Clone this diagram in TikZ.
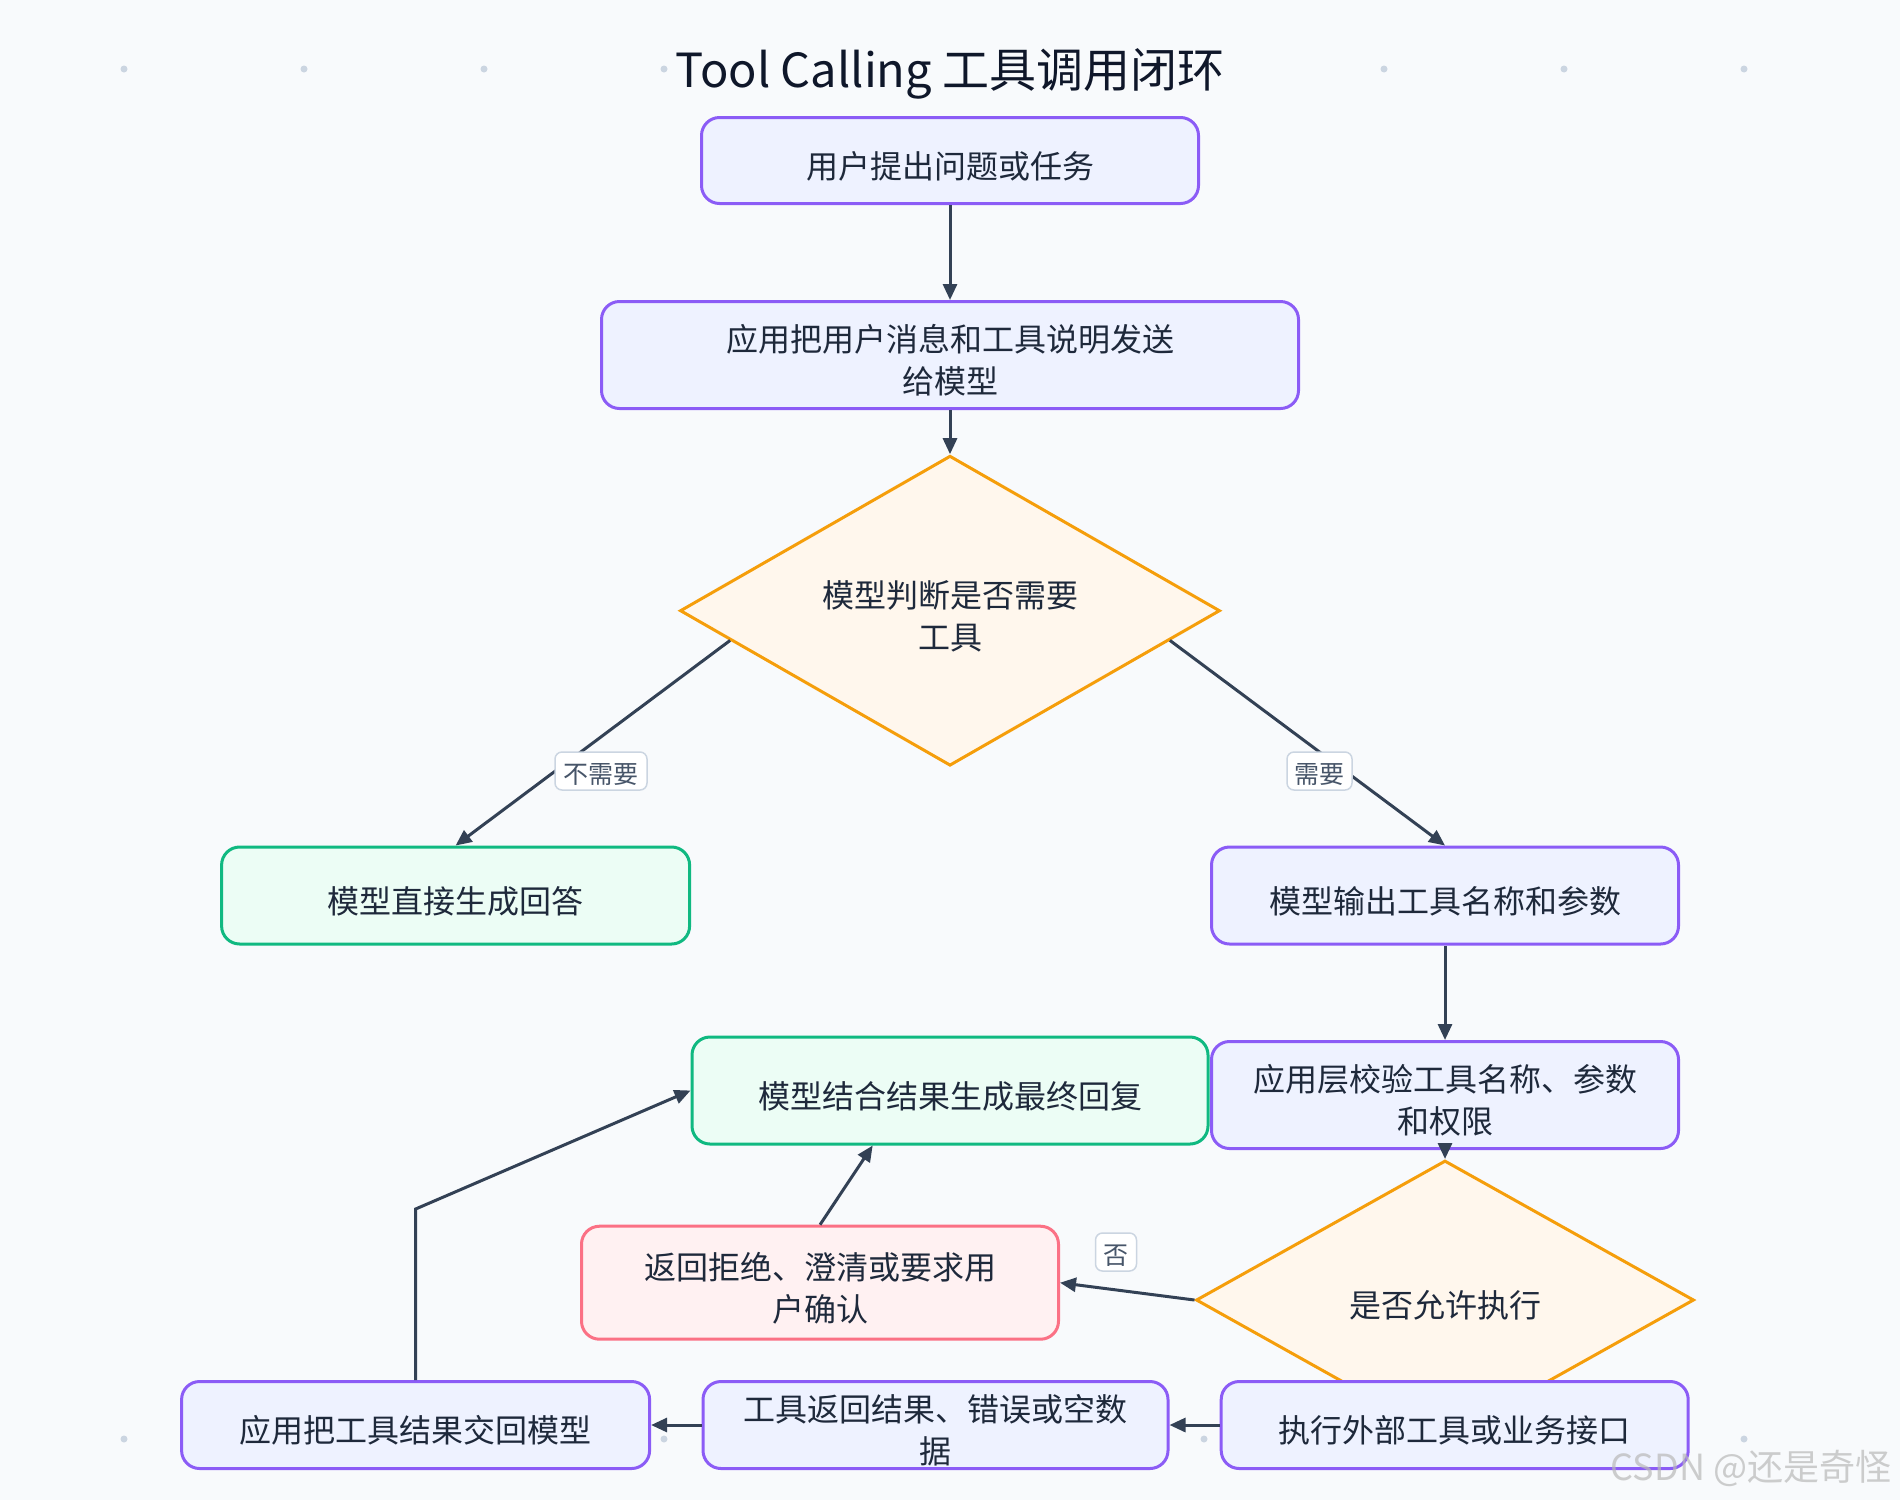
\documentclass[tikz,border=0pt]{standalone}
\usepackage{fontspec}
\setmainfont{Noto Sans CJK SC}
\usetikzlibrary{shapes.geometric,arrows.meta,calc}

\definecolor{pagebg}{HTML}{F8FAFC}
\definecolor{dotc}{HTML}{CBD5E1}
\definecolor{ink}{HTML}{1E293B}
\definecolor{titleink}{HTML}{0F172A}
\definecolor{edgec}{HTML}{334155}
\definecolor{vioLine}{HTML}{8B5CF6}
\definecolor{vioFill}{HTML}{EEF2FF}
\definecolor{grnLine}{HTML}{10B981}
\definecolor{grnFill}{HTML}{ECFDF5}
\definecolor{ambLine}{HTML}{F59E0B}
\definecolor{ambFill}{HTML}{FFF7ED}
\definecolor{rosLine}{HTML}{FB7185}
\definecolor{rosFill}{HTML}{FFF1F2}
\definecolor{tagLine}{HTML}{CBD5E1}
\definecolor{tagText}{HTML}{475569}

\newcommand{\boxfont}{\fontsize{32}{42}\selectfont}
\newcommand{\tagfnt}{\fontsize{25}{30}\selectfont}
\newcommand{\headfnt}{\fontsize{47}{56}\selectfont}
% a tall invisible strut at the start of the first line sets the text a little lower
\newcommand{\lowerstrut}{\rule{0pt}{38pt}}

\tikzset{
  box/.style={draw, rounded corners=18pt, line width=3pt, align=center,
    inner sep=0pt, font=\boxfont, text=ink, execute at begin node=\lowerstrut},
  proc/.style={box, draw=vioLine, fill=vioFill},
  good/.style={box, draw=grnLine, fill=grnFill},
  bad/.style={box, draw=rosLine, fill=rosFill},
  decision/.style={diamond, draw=ambLine, fill=ambFill, line width=3pt,
    align=center, inner sep=0pt, font=\boxfont, text=ink,
    execute at begin node=\lowerstrut},
  flow/.style={draw=edgec, line width=3pt, -{Triangle[length=16pt,width=14pt]}},
  tag/.style={draw=tagLine, fill=white, rounded corners=7pt, line width=1.5pt,
    font=\tagfnt, text=tagText, inner sep=0pt, minimum height=38pt,
    execute at begin node=\rule{0pt}{26pt}},
  bgdot/.style={fill=dotc},
}

\begin{document}
\begin{tikzpicture}[x=1pt,y=-1pt]
  % page
  \fill[pagebg] (0,0) rectangle (1900,1500);
  \useasboundingbox (0,0) rectangle (1900,1500);

  % decorative dot rows
  \foreach \k in {0,...,9} {
    \fill[bgdot] (124+180*\k,69) circle (3.5pt);
    \fill[bgdot] (124+180*\k,1439) circle (3.5pt);
  }

  % heading
  \node[fill=pagebg, inner sep=2pt, font=\headfnt, text=titleink] (title) at (950,74)
    {Tool Calling 工具调用闭环};

  % steps
  \node[proc, minimum width=497pt, minimum height=86pt] (ask) at (950,160.5) {用户提出问题或任务};
  \node[proc, minimum width=697pt, minimum height=107pt] (send) at (950,355)
    {\lowerstrut 应用把用户消息和工具说明发送\\给模型};
  \node[decision, aspect=1.742, minimum width=540pt, minimum height=310pt] (need) at (950,610.7)
    {\lowerstrut 模型判断是否需要\\工具};
  \node[good, minimum width=468pt, minimum height=97pt] (direct) at (455.6,895.5) {模型直接生成回答};
  \node[proc, minimum width=467pt, minimum height=97pt] (call) at (1445,895.5) {模型输出工具名称和参数};
  \node[good, minimum width=516pt, minimum height=107pt] (final) at (950,1090.5) {模型结合结果生成最终回复};
  \node[proc, minimum width=467pt, minimum height=107pt] (check) at (1445,1095)
    {\lowerstrut 应用层校验工具名称、参数\\和权限};
  \node[decision, aspect=1.785, minimum width=498pt, minimum height=279pt] (allow) at (1445,1300)
    {是否允许执行};
  \node[bad, minimum width=477pt, minimum height=113pt] (reject) at (820,1282.7)
    {\lowerstrut 返回拒绝、澄清或要求用\\户确认};
  \node[proc, minimum width=468pt, minimum height=87pt] (giveback) at (415.6,1425) {应用把工具结果交回模型};
  \node[proc, minimum width=465pt, minimum height=87pt] (result) at (935.5,1425)
    {\lowerstrut 工具返回结果、错误或空数\\据};
  \node[proc, minimum width=467pt, minimum height=87pt] (exec) at (1454.7,1425) {执行外部工具或业务接口};

  % connectors
  \draw[flow] (ask.south) -- (send.north);
  \draw[flow] (send.south) -- (need.north);
  \draw[flow] ($(need.west)!0.19!(need.south)$) -- (direct.north);
  \draw[flow] ($(need.east)!0.19!(need.south)$) -- (call.north);
  \draw[flow] (call.south) -- (check.north);
  \draw[flow] (check.south) -- (allow.north);
  \draw[flow] (allow.west) -- (reject.east);
  \draw[flow] (exec.west) -- (result.east);
  \draw[flow] (result.west) -- (giveback.east);
  \coordinate (bend) at ($(giveback.north |- 0,1209)$);
  \draw[flow] (giveback.north) -- (bend) -- (final.west);
  \draw[flow] (reject.north) -- ($(final.south west)!0.351!(final.south east)$);

  % connector labels
  \node[tag, minimum width=92pt] (lblno) at (601,771) {不需要};
  \node[tag, minimum width=65pt] (lblyes) at (1319.5,771) {需要};
  \node[tag, minimum width=41pt] (lbldeny) at (1116,1252) {否};

  % signature
  \node[font=\fontsize{36}{40}\selectfont, text=gray!55, opacity=0.7] (sign) at (1751,1468)
    {CSDN @还是奇怪};
\end{tikzpicture}
\end{document}
